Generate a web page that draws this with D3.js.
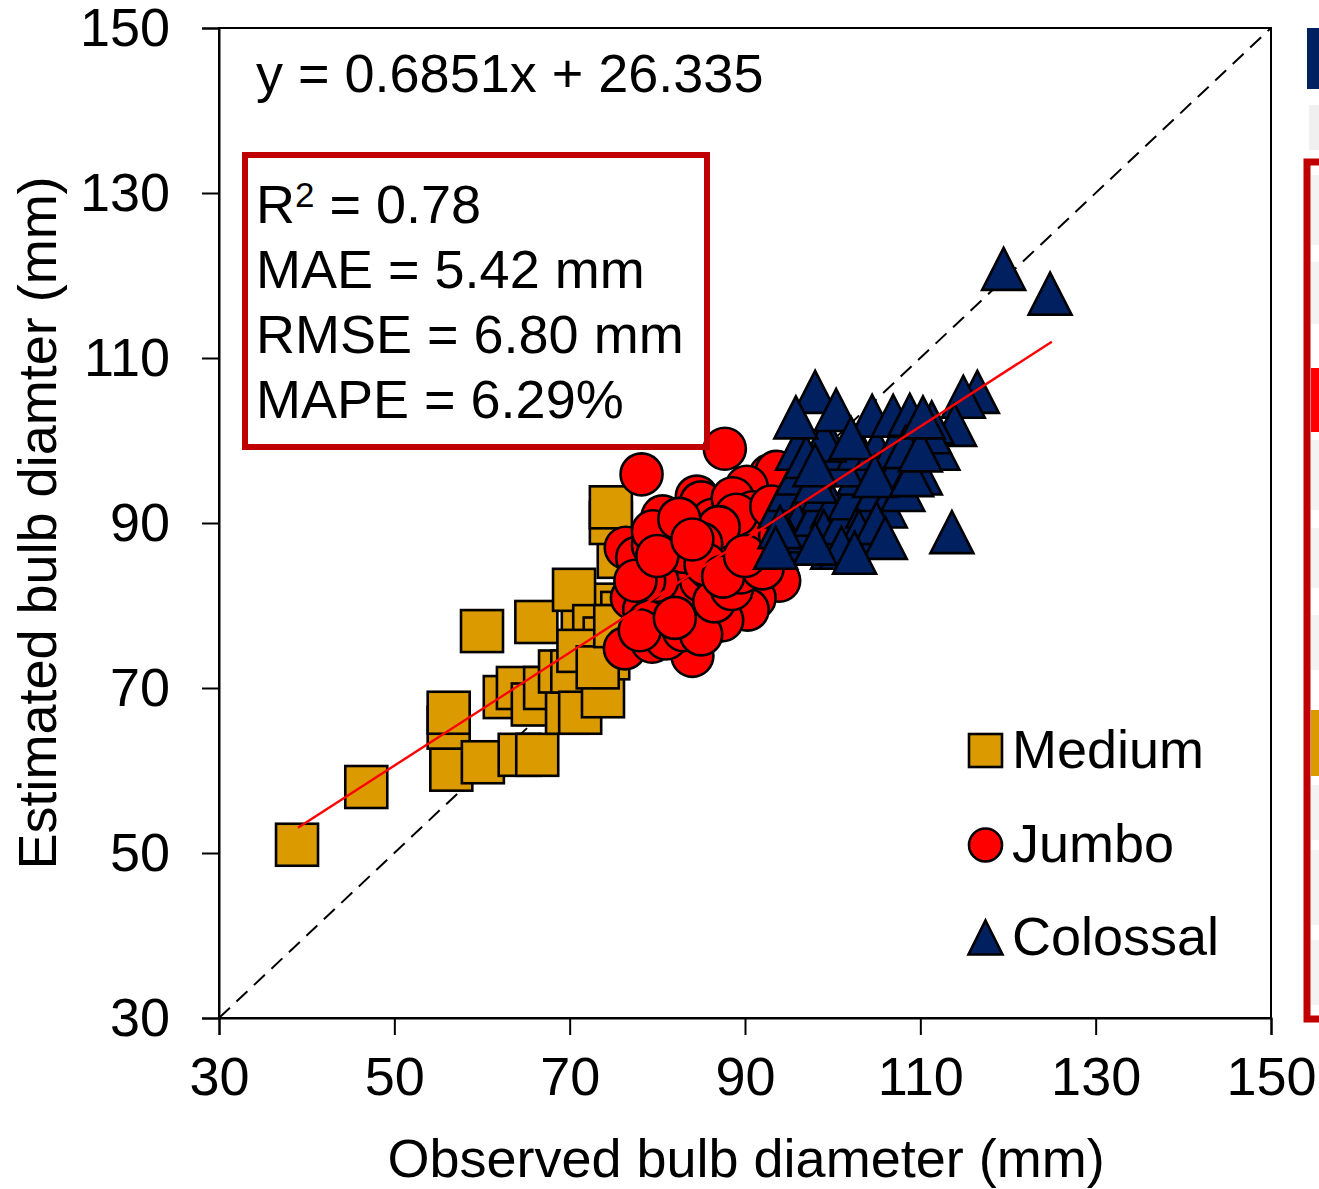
<!DOCTYPE html>
<html>
<head>
<meta charset="utf-8">
<script src="https://cdn.jsdelivr.net/npm/d3@7/dist/d3.min.js"></script>
<style>
  html, body { margin: 0; padding: 0; background: #fff; }
  svg { display: block; }
  text { font-family: "Liberation Sans", Arial, Helvetica, sans-serif; fill: #000; }
</style>
</head>
<body>
<svg id="chart" width="1319" height="1189"></svg>
<script>
// ---------------- DATA ----------------
const xTicks = [30, 50, 70, 90, 110, 130, 150];
const yTicks = [30, 50, 70, 90, 110, 130, 150];
const xTitle = "Observed bulb diameter (mm)";
const yTitle = "Estimated bulb diamter (mm)";
const seriesNames = ["Medium", "Jumbo", "Colossal"];
const seriesColors = ["#DB9A00", "#FF0000", "#002060"];

const regSlope = 0.6851;
const regIntercept = 26.335;
const regRange = [39, 125];
const equationLabel = "y = 0.6851x + 26.335";
const statsLabels = ["= 0.78", "MAE = 5.42 mm", "RMSE = 6.80 mm", "MAPE = 6.29%"];

// [observed, estimated]
const mediumPoints = [
  [38.9, 51.0], [46.8, 58.0], [56.5, 60.1], [56.2, 65.2], [56.2, 67.0],
  [60.1, 61.0], [64.3, 61.9], [66.3, 61.9], [60.0, 76.9], [66.2, 78.0],
  [62.6, 68.9], [64.1, 70.0], [65.8, 68.0], [67.2, 70.0], [69.7, 67.0],
  [68.9, 72.0], [70.3, 72.0], [71.2, 67.0], [73.8, 69.0], [74.4, 73.6],
  [72.9, 75.2], [72.3, 76.8], [71.5, 78.0], [73.6, 80.1], [76.0, 79.1],
  [70.5, 81.9], [72.8, 77.5], [74.0, 76.0], [75.6, 85.9], [74.7, 90.0],
  [74.7, 91.9], [71.0, 74.5], [73.2, 72.5], [75.2, 77.5]
];

const jumboPoints = [
  [78.2, 95.9], [87.7, 99.0], [84.5, 93.2], [85.0, 92.5], [80.6, 90.8],
  [76.4, 87.0], [77.7, 85.8], [79.5, 87.3], [82.8, 88.2], [77.1, 80.9],
  [76.3, 74.8], [79.4, 75.6], [84.0, 73.9], [85.1, 78.9], [80.9, 77.3],
  [79.7, 84.1], [81.7, 82.1], [83.2, 84.1], [86.3, 90.4], [92.9, 95.8],
  [93.6, 96.2], [90.2, 94.4], [88.6, 93.0], [90.9, 91.3], [94.0, 91.6],
  [93.9, 83.0], [91.1, 80.9], [90.3, 79.5], [87.4, 78.2], [78.5, 79.5],
  [80.0, 81.0], [81.0, 79.0], [82.0, 80.5], [83.0, 82.0], [84.0, 81.0],
  [85.0, 83.0], [86.0, 84.5], [87.0, 86.0], [88.0, 85.0], [89.0, 87.0],
  [90.0, 88.0], [91.0, 86.0], [92.0, 89.0], [86.0, 88.0], [84.0, 86.0],
  [82.0, 85.5], [80.0, 83.0], [78.5, 83.0], [79.0, 78.0], [81.0, 76.0],
  [83.0, 77.0], [85.0, 76.5], [86.5, 80.5], [88.5, 82.0], [89.5, 84.0],
  [92.0, 84.5], [93.0, 87.0], [91.0, 90.0], [89.0, 91.0], [87.0, 89.5],
  [85.0, 87.5], [83.0, 86.5], [81.0, 88.0], [79.5, 89.0], [77.5, 83.0],
  [78.0, 77.0], [82.0, 78.5], [85.5, 85.0], [87.5, 83.5], [90.0, 86.0],
  [94.0, 88.5], [93.0, 92.0], [80.0, 86.0], [82.5, 90.5], [84.0, 88.0]
];

const colossalPoints = [
  [94.0, 92.0], [95.0, 94.0], [96.0, 96.0], [97.0, 93.0], [96.0, 90.0],
  [95.0, 88.0], [97.0, 89.0], [98.0, 91.0], [99.0, 94.0], [100.0, 92.0],
  [99.0, 89.0], [100.0, 87.0], [101.0, 90.0], [102.0, 93.0], [103.0, 96.0],
  [101.0, 97.0], [100.0, 99.0], [103.0, 99.0], [105.0, 99.0], [104.0, 92.0],
  [105.0, 94.0], [106.0, 97.0], [107.0, 99.0], [106.0, 92.0], [103.0, 89.0],
  [101.0, 87.0], [98.0, 87.5], [94.0, 89.5], [93.5, 87.0], [96.0, 99.0],
  [99.0, 100.0], [107.0, 96.0], [105.0, 90.0], [108.0, 94.0], [110.0, 96.0],
  [112.0, 99.0], [98.0, 95.0], [97.0, 98.0],
  [98.0, 105.9], [95.8, 102.8], [100.4, 103.7], [104.5, 103.0], [106.9, 103.0],
  [102.1, 100.3], [104.8, 95.7], [106.0, 88.2], [102.5, 86.4], [98.0, 97.0],
  [116.5, 105.9], [114.9, 105.3], [113.9, 101.9], [111.3, 102.2], [111.0, 101.0],
  [109.0, 95.8], [108.8, 103.1], [108.3, 99.2], [110.0, 98.8], [110.3, 102.8],
  [113.6, 88.9], [119.5, 120.8], [124.8, 117.8]
];

// ---------------- LAYOUT ----------------
const svg = d3.select("#chart");
const pLeft = 219, pRight = 1271, pTop = 28, pBottom = 1018;
const fontSize = 54;
const markStroke = 2.6;

const x = d3.scaleLinear().domain([30, 150]).range([pLeft, pRight]);
const y = d3.scaleLinear().domain([30, 150]).range([pBottom, pTop]);

// ----- clipped neighbouring panel on the right edge -----
const side = svg.append("g");
side.append("rect").attr("x", 1307).attr("y", 28).attr("width", 20).attr("height", 61).attr("fill", "#002060");
side.append("rect").attr("x", 1309).attr("y", 105).attr("width", 20).attr("height", 45).attr("fill", "#f0f0f0");
[[175, 70], [262, 62], [440, 70], [528, 60], [615, 55], [785, 55], [850, 75], [940, 65]].forEach(([yy, h]) => {
  side.append("rect").attr("x", 1311).attr("y", yy).attr("width", 20).attr("height", h).attr("fill", "#f3f3f3");
});
side.append("rect").attr("x", 1311).attr("y", 368).attr("width", 20).attr("height", 64).attr("fill", "#FF0000");
side.append("rect").attr("x", 1311).attr("y", 710).attr("width", 20).attr("height", 66).attr("fill", "#DB9A00");
side.append("rect").attr("x", 1307).attr("y", 162).attr("width", 40).attr("height", 857)
  .attr("fill", "none").attr("stroke", "#C00000").attr("stroke-width", 7);

// ----- 1:1 dashed line -----
svg.append("line")
  .attr("x1", x(30)).attr("y1", y(30)).attr("x2", x(150)).attr("y2", y(150))
  .attr("stroke", "#000").attr("stroke-width", 2).attr("stroke-dasharray", "15,9");

// ----- markers -----
const sqSize = 42;
function drawSquares(g, data, color, size) {
  g.selectAll(null).data(data).enter().append("rect")
    .attr("x", d => x(d[0]) - size / 2).attr("y", d => y(d[1]) - size / 2)
    .attr("width", size).attr("height", size)
    .attr("fill", color).attr("stroke", "#000").attr("stroke-width", markStroke);
}
function drawCircles(g, data, color, r) {
  g.selectAll(null).data(data).enter().append("circle")
    .attr("cx", d => x(d[0])).attr("cy", d => y(d[1])).attr("r", r)
    .attr("fill", color).attr("stroke", "#000").attr("stroke-width", markStroke);
}
function triPath(w, h) {
  return `M0,${-h / 2} L${w / 2},${h / 2} L${-w / 2},${h / 2} Z`;
}
function drawTriangles(g, data, color, w, h) {
  g.selectAll(null).data(data).enter().append("path")
    .attr("d", triPath(w, h))
    .attr("transform", d => `translate(${x(d[0])},${y(d[1])})`)
    .attr("fill", color).attr("stroke", "#000").attr("stroke-width", markStroke)
    .attr("stroke-linejoin", "miter");
}

drawSquares(svg.append("g"), mediumPoints, seriesColors[0], sqSize);
drawCircles(svg.append("g"), jumboPoints, seriesColors[1], 21);
drawTriangles(svg.append("g"), colossalPoints, seriesColors[2], 43, 42);

// ----- regression line -----
svg.append("line")
  .attr("x1", x(regRange[0])).attr("y1", y(regSlope * regRange[0] + regIntercept))
  .attr("x2", x(regRange[1])).attr("y2", y(regSlope * regRange[1] + regIntercept))
  .attr("stroke", "#FF0000").attr("stroke-width", 2.4);

// ----- frame & axes -----
svg.append("rect").attr("x", pLeft).attr("y", pTop).attr("width", pRight - pLeft).attr("height", pBottom - pTop)
  .attr("fill", "none").attr("stroke", "#000").attr("stroke-width", 2);

const xAxis = d3.axisBottom(x).tickValues(xTicks).tickSize(17).tickPadding(22).tickFormat(d3.format("d"));
const yAxis = d3.axisLeft(y).tickValues(yTicks).tickSize(17).tickPadding(32).tickFormat(d3.format("d"));

const gx = svg.append("g").attr("transform", `translate(0,${pBottom})`).call(xAxis);
const gy = svg.append("g").attr("transform", `translate(${pLeft},0)`).call(yAxis);
[gx, gy].forEach(g => {
  g.select(".domain").attr("stroke", "#000").attr("stroke-width", 2);
  g.selectAll(".tick line").attr("stroke", "#000").attr("stroke-width", 2);
  g.selectAll(".tick text").attr("font-size", fontSize).attr("fill", "#000")
    .style("font-family", '"Liberation Sans", Arial, sans-serif');
});
gx.selectAll(".tick text").attr("dy", "0.71em");

// ----- axis titles -----
svg.append("text").attr("x", 746).attr("y", 1177).attr("text-anchor", "middle")
  .attr("font-size", fontSize).text(xTitle);
svg.append("text").attr("transform", "translate(56,523) rotate(-90)").attr("text-anchor", "middle")
  .attr("font-size", fontSize).text(yTitle);

// ----- equation & stats box -----
svg.append("text").attr("x", 256).attr("y", 92).attr("font-size", fontSize).text(equationLabel);
svg.append("rect").attr("x", 245).attr("y", 155).attr("width", 462).attr("height", 292)
  .attr("fill", "none").attr("stroke", "#C00000").attr("stroke-width", 6);
const statsBase = [223, 288, 353, 418];
const r2 = svg.append("text").attr("x", 256).attr("y", statsBase[0]).attr("font-size", fontSize);
r2.append("tspan").text("R");
r2.append("tspan").attr("font-size", 35).attr("dy", -16).text("2");
r2.append("tspan").attr("dy", 16).text(" " + statsLabels[0]);
statsLabels.slice(1).forEach((s, i) => {
  svg.append("text").attr("x", 256).attr("y", statsBase[i + 1]).attr("font-size", fontSize).text(s);
});

// ----- legend -----
const legendBase = [768, 862, 955];
const lg = svg.append("g");
lg.append("rect").attr("x", 969).attr("y", 734).attr("width", 33).attr("height", 33)
  .attr("fill", seriesColors[0]).attr("stroke", "#000").attr("stroke-width", markStroke);
lg.append("circle").attr("cx", 985.5).attr("cy", 845).attr("r", 16.5)
  .attr("fill", seriesColors[1]).attr("stroke", "#000").attr("stroke-width", markStroke);
lg.append("path").attr("d", triPath(34, 34)).attr("transform", "translate(985.5,937.5)")
  .attr("fill", seriesColors[2]).attr("stroke", "#000").attr("stroke-width", markStroke);
seriesNames.forEach((n, i) => {
  lg.append("text").attr("x", 1012).attr("y", legendBase[i]).attr("font-size", fontSize).text(n);
});
</script>
</body>
</html>
